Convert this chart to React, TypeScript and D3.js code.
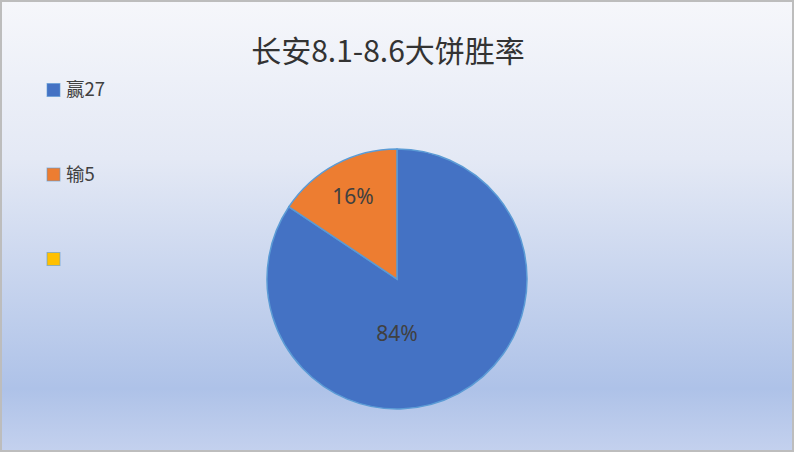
import React from "react";
import * as d3 from "d3";

const title = "长安8.1-8.6大饼胜率";
const categories = ["赢27", "输5", ""];
const values = [27, 5, 0];
const colors = ["#4472c4", "#ed7d31", "#ffc000"];

const width = 794;
const height = 452;

export default function App() {
  const cx = 397;
  const cy = 279;
  const r = 130;

  const total = d3.sum(values);
  const pie = d3
    .pie<number>()
    .sort(null)
    .value((d) => d);
  const arcs = pie(values).filter((a) => a.data > 0);

  const arc = d3.arc<d3.PieArcDatum<number>>().innerRadius(0).outerRadius(r);
  const labelArc = d3
    .arc<d3.PieArcDatum<number>>()
    .innerRadius(r * 0.72)
    .outerRadius(r * 0.72);

  const pct = d3.format(".0%");

  const legendY = d3
    .scalePoint<number>()
    .domain(categories.map((_, i) => i))
    .range([90, 259]);

  return (
    <div style={{ position: "absolute", left: 0, top: 0 }}>
      <svg width={width} height={height} style={{ display: "block" }}>
        <defs>
          <linearGradient id="bg" x1="0" y1="0" x2="0" y2="1">
            <stop offset="0" stopColor="#f6f7fb" />
            <stop offset="0.35" stopColor="#e4e9f5" />
            <stop offset="0.86" stopColor="#aec2e8" />
            <stop offset="1" stopColor="#c4d1ee" />
          </linearGradient>
        </defs>
        <rect x={0} y={0} width={width} height={height} fill="url(#bg)" />
        <rect
          x={1}
          y={1}
          width={width - 2}
          height={height - 2}
          fill="none"
          stroke="#bdbdbd"
          strokeWidth={2}
        />
        <text
          x={388}
          y={62}
          textAnchor="middle"
          fontFamily="'Noto Sans CJK SC', 'Noto Sans', sans-serif"
          fontSize={30}
          fill="#333333"
        >
          {title}
        </text>

        {categories.map((c, i) => (
          <g key={i} transform={`translate(47, ${legendY(i)})`}>
            <rect
              x={0}
              y={-6.5}
              width={13}
              height={13}
              fill={colors[i]}
              stroke="#5b9bd5"
              strokeOpacity={0.6}
              strokeWidth={1}
            />
            <text
              x={19}
              y={0}
              dy="0.35em"
              fontFamily="'Noto Sans CJK SC', 'Noto Sans', sans-serif"
              fontSize={18.5}
              fill="#404040"
            >
              {c}
            </text>
          </g>
        ))}

        <g transform={`translate(${cx}, ${cy})`}>
          {arcs.map((a, i) => (
            <path
              key={i}
              d={arc(a) ?? ""}
              fill={colors[a.index]}
              stroke="#5b9bd5"
              strokeWidth={1.5}
            />
          ))}
          {arcs.map((a, i) => {
            const big = a.endAngle - a.startAngle > Math.PI;
            const [lx, ly] = big ? [0, r * 0.42] : labelArc.centroid(a);
            return (
              <text
                key={i}
                x={lx}
                y={ly}
                dy="0.35em"
                textAnchor="middle"
                fontFamily="'Noto Sans', 'Noto Sans CJK SC', sans-serif"
                fontSize={21}
                fill="#404040"
              >
                {pct(a.data / total)}
              </text>
            );
          })}
        </g>
      </svg>
    </div>
  );
}
